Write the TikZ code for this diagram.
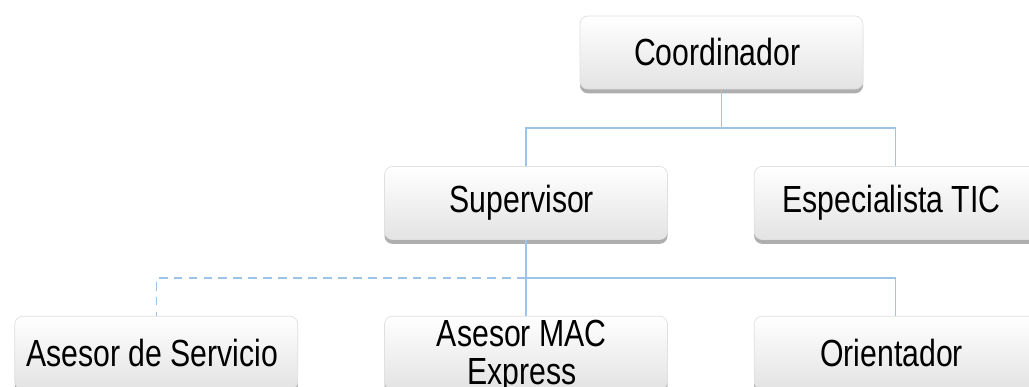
\documentclass[tikz,border=0pt]{standalone}
\usepackage{fontspec}
\setmainfont{Liberation Sans}[FakeStretch=0.8]
\usetikzlibrary{positioning,shadows}
\definecolor{linkblue}{HTML}{9DC3E6}
\tikzset{
  org box/.style = {
    shape = rectangle,
    align = center,
    draw  = black!12,
    top color = white,
    bottom color = black!11,
    minimum width = 5.66cm,
    minimum height = 1.46cm,
    rounded corners = 0.16cm,
    font = \fontsize{21.5}{22}\selectfont,
    drop shadow = {shadow xshift = 0pt, shadow yshift = -2.5pt,
                   opacity = 0.45, fill = black!70}},
  link/.style = {draw = linkblue, line width = 0.8pt}
}
% two lines that keep the box at its usual height
\newcommand{\twolines}[2]{\smash{\raisebox{-8pt}{%
  \begin{tabular}[c]{@{}c@{}}#1\\#2\end{tabular}}}}

\begin{document}
\begin{tikzpicture}[node distance = 1.72cm, nodes = {align = center}]
  \useasboundingbox (0,0) rectangle (20.58,7.74);
  \node[org box] (coord) at (14.43,6.69) { Coordinador };
  \node[org box] (super) at (10.52,3.68) { Supervisor };
  \node[org box, right = of super] (tic) { Especialista TIC };
  \node[org box, below = 1.52cm of super] (mac) { \twolines{Asesor MAC}{Express} };
  \node[org box, left = of mac] (servicio) { Asesor de Servicio };
  \node[org box, right = of mac] (orient) { Orientador };
  % branch points
  \coordinate (top bar) at (coord.south |- 0,5.18);
  \coordinate (low bar) at (super.south |- 0,2.18);
  \draw[link] (coord.south) -- (top bar) -| (super.north);
  \draw[link] (top bar) -| (tic.north);
  \draw[link] (super.south) -- (mac.north);
  \draw[link] (low bar) -| (orient.north);
  \draw[link, dash pattern = on 5pt off 3.5pt] (low bar) -| (servicio.north);
\end{tikzpicture}
\end{document}
